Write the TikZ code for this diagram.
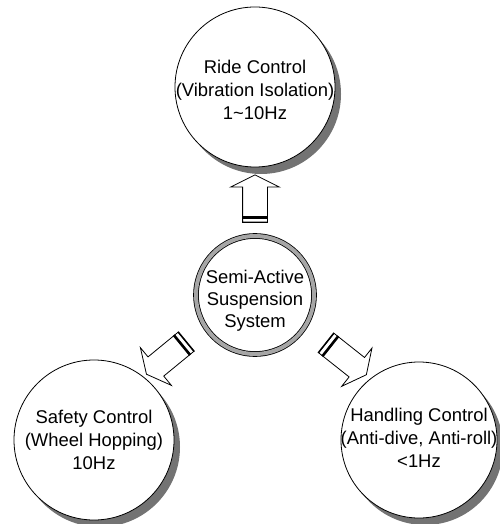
\documentclass[tikz,border=0pt]{standalone}
\usepackage{fontspec}
\setmainfont{Liberation Sans}
\usetikzlibrary{shapes.arrows,calc}

\tikzset{
  ctrl/.style={circle, draw, line width=0.8bp, fill=white, minimum size=160bp, inner sep=0pt},
  ctrlshadow/.style={fill=black!55},
  ctrltext/.style={align=center, font=\fontsize{18.5}{23}\selectfont},
  sysnode/.style={circle, draw, line width=0.8bp, double=black!35, double distance=4bp,
    fill=white, minimum size=118bp, inner sep=0pt},
  fatarrow/.style={single arrow, draw, line width=0.8bp, fill=white, minimum width=48bp,
    single arrow head extend=12bp, single arrow tip angle=127, inner xsep=0pt, inner ysep=12bp,
    sloped, allow upside down},
  tailbar/.style={line width=2.6bp}
}

\begin{document}
\begin{tikzpicture}[x=1bp, y=-1bp]
\useasboundingbox (0,0) rectangle (500,524);

\coordinate (ridec) at (255,87);
\coordinate (safetyc) at (94,440);
\coordinate (handlingc) at (419,440);

% shadows behind the goals
\fill[ctrlshadow] ($(ridec)+(6,7)$) circle[radius=80];
\fill[ctrlshadow] ($(safetyc)+(6,7)$) circle[radius=80];
\fill[ctrlshadow] ($(handlingc)+(6,7)$) circle[radius=78];

% the three control goals
\node[ctrl, label={[ctrltext, yshift=-3bp]center:Ride Control\\(Vibration Isolation)\\1\textasciitilde10Hz}] (ride) at (ridec) {};
\node[ctrl, label={[ctrltext]center:Safety Control\\(Wheel Hopping)\\10Hz}] (safety) at (safetyc) {};
\node[ctrl, minimum size=156bp, label={[ctrltext, yshift=2bp]center:Handling Control\\(Anti-dive, Anti-roll)\\<1Hz}] (handling) at (handlingc) {};

% the system in the middle
\node[sysnode, label={[ctrltext, font=\fontsize{18.5}{22}\selectfont, yshift=-6bp]center:Semi-Active\\Suspension\\System}] (sys) at (255,295) {};

% fat arrows
\path (sys.90) -- (ride.270) node[fatarrow, minimum height=47bp, midway] (uparr) {};
\path (sys.212) -- (safety.52) node[fatarrow, minimum height=51bp, pos=0.59] (leftarr) {};
\path (sys.328) -- (handling.128) node[fatarrow, minimum height=51bp, pos=0.59] (rightarr) {};

\foreach \a in {uparr,leftarr,rightarr}{
  \draw[tailbar] ($(\a.before tail)!0.14!(\a.after head)$) -- ($(\a.after tail)!0.14!(\a.before head)$);
  \draw[line width=1.4bp] (\a.before tail) -- (\a.after tail);
}
\end{tikzpicture}
\end{document}
